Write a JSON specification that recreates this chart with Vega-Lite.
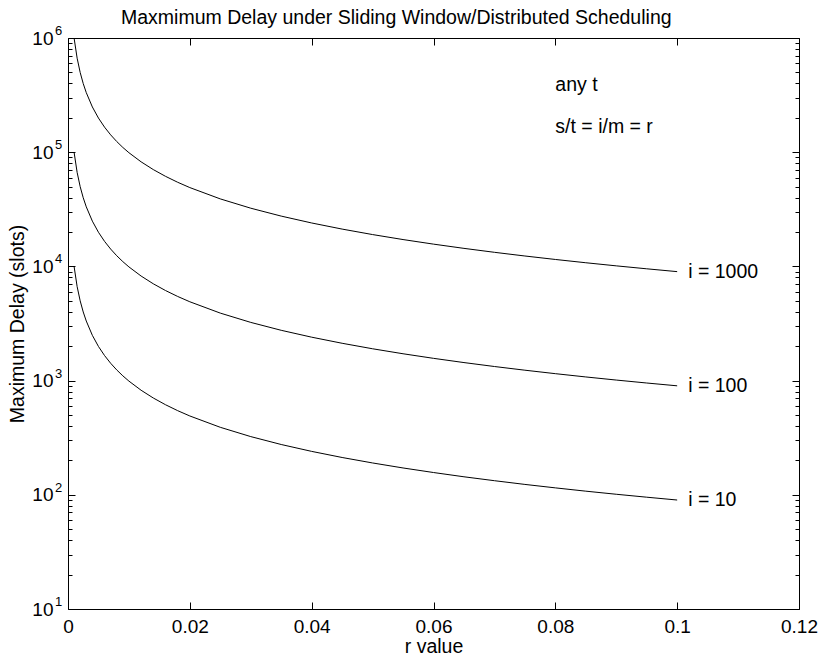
{
  "$schema": "https://vega.github.io/schema/vega-lite/v6.json",
  "width": 731,
  "height": 571,
  "autosize": {"type": "none"},
  "padding": {"left": 68, "top": 38, "right": 23, "bottom": 49},
  "background": "white",
  "config": {
    "view": {"stroke": null},
    "font": "Liberation Sans",
    "axis": {
      "grid": false,
      "domainColor": "black",
      "tickColor": "black",
      "labelColor": "black",
      "titleColor": "black",
      "labelFont": "Liberation Sans",
      "titleFont": "Liberation Sans",
      "labelFontSize": 19,
      "titleFontSize": 19.5,
      "titleFontWeight": "normal",
      "labelFlush": false,
      "labelOverlap": false,
      "labelBound": false,
      "domainWidth": 1,
      "tickWidth": 1
    },
    "title": {"font": "Liberation Sans", "fontSize": 19.5, "fontWeight": "normal", "color": "black"}
  },
  "title": {"text": "Maxmimum Delay under Sliding Window/Distributed Scheduling", "anchor": "start", "frame": "group", "dx": 53, "offset": -3},
  "datasets": {
    "curves": [
      {"r": 0.001, "d10": 9990, "d100": 99900, "d1000": 999000},
      {"r": 0.0015, "d10": 6656.7, "d100": 66566.7, "d1000": 665666.7},
      {"r": 0.002, "d10": 4990, "d100": 49900, "d1000": 499000},
      {"r": 0.0025, "d10": 3990, "d100": 39900, "d1000": 399000},
      {"r": 0.003, "d10": 3323.3, "d100": 33233.3, "d1000": 332333.3},
      {"r": 0.004, "d10": 2490, "d100": 24900, "d1000": 249000},
      {"r": 0.005, "d10": 1990, "d100": 19900, "d1000": 199000},
      {"r": 0.006, "d10": 1656.7, "d100": 16566.7, "d1000": 165666.7},
      {"r": 0.007, "d10": 1418.6, "d100": 14185.7, "d1000": 141857.1},
      {"r": 0.008, "d10": 1240, "d100": 12400, "d1000": 124000},
      {"r": 0.009, "d10": 1101.1, "d100": 11011.1, "d1000": 110111.1},
      {"r": 0.01, "d10": 990, "d100": 9900, "d1000": 99000},
      {"r": 0.012, "d10": 823.3, "d100": 8233.3, "d1000": 82333.3},
      {"r": 0.014, "d10": 704.3, "d100": 7042.9, "d1000": 70428.6},
      {"r": 0.016, "d10": 615, "d100": 6150, "d1000": 61500},
      {"r": 0.018, "d10": 545.6, "d100": 5455.6, "d1000": 54555.6},
      {"r": 0.02, "d10": 490, "d100": 4900, "d1000": 49000},
      {"r": 0.025, "d10": 390, "d100": 3900, "d1000": 39000},
      {"r": 0.03, "d10": 323.3, "d100": 3233.3, "d1000": 32333.3},
      {"r": 0.035, "d10": 275.7, "d100": 2757.1, "d1000": 27571.4},
      {"r": 0.04, "d10": 240, "d100": 2400, "d1000": 24000},
      {"r": 0.045, "d10": 212.2, "d100": 2122.2, "d1000": 21222.2},
      {"r": 0.05, "d10": 190, "d100": 1900, "d1000": 19000},
      {"r": 0.055, "d10": 171.8, "d100": 1718.2, "d1000": 17181.8},
      {"r": 0.06, "d10": 156.7, "d100": 1566.7, "d1000": 15666.7},
      {"r": 0.065, "d10": 143.8, "d100": 1438.5, "d1000": 14384.6},
      {"r": 0.07, "d10": 132.9, "d100": 1328.6, "d1000": 13285.7},
      {"r": 0.075, "d10": 123.3, "d100": 1233.3, "d1000": 12333.3},
      {"r": 0.08, "d10": 115, "d100": 1150, "d1000": 11500},
      {"r": 0.085, "d10": 107.6, "d100": 1076.5, "d1000": 10764.7},
      {"r": 0.09, "d10": 101.1, "d100": 1011.1, "d1000": 10111.1},
      {"r": 0.095, "d10": 95.3, "d100": 952.6, "d1000": 9526.3},
      {"r": 0.1, "d10": 90, "d100": 900, "d1000": 9000}
    ],
    "labels": [
      {"r": 0.1, "d": 9000, "t": "i = 1000"},
      {"r": 0.1, "d": 900, "t": "i = 100"},
      {"r": 0.1, "d": 90, "t": "i = 10"}
    ],
    "notes": [
      {"r": 0.08, "d": 384000, "t": "any t"},
      {"r": 0.08, "d": 165000, "t": "s/t = i/m = r"}
    ],
    "exps": [
      {"r": 0, "d": 10, "t": "1"},
      {"r": 0, "d": 100, "t": "2"},
      {"r": 0, "d": 1000, "t": "3"},
      {"r": 0, "d": 10000, "t": "4"},
      {"r": 0, "d": 100000, "t": "5"},
      {"r": 0, "d": 1000000, "t": "6"}
    ]
  },
  "resolve": {"scale": {"x": "shared", "y": "shared"}, "axis": {"x": "independent", "y": "independent"}},
  "layer": [
    {
      "data": {"name": "curves"},
      "transform": [{"fold": ["d10", "d100", "d1000"], "as": ["series", "delay"]}],
      "mark": {"type": "line", "color": "black", "strokeWidth": 1},
      "encoding": {
        "x": {"field": "r", "type": "quantitative",
          "scale": {"domain": [0, 0.12], "nice": false, "zero": false},
          "axis": {"orient": "bottom", "values": [0, 0.02, 0.04, 0.06, 0.08, 0.1, 0.12], "labelExpr": "datum.value == 0 ? '0' : format(datum.value, '.2~f')", "tickSize": -7, "labelPadding": 15, "title": "r value", "titlePadding": 1}},
        "y": {"field": "delay", "type": "quantitative",
          "scale": {"type": "log", "domain": [10, 1000000], "nice": false},
          "axis": {"orient": "left", "values": [10, 100, 1000, 10000, 100000, 1000000], "labelExpr": "'10'", "tickSize": -7, "labelPadding": 22, "labelAlign": "right", "labelBaseline": "middle", "title": "Maximum Delay (slots)", "titlePadding": 4}},
        "detail": {"field": "series"}
      }
    },
    {
      "data": {"name": "labels"},
      "mark": {"type": "text", "align": "left", "baseline": "middle", "dx": 11, "fontSize": 19.5, "font": "Liberation Sans", "color": "black"},
      "encoding": {
        "x": {"field": "r", "type": "quantitative",
          "axis": {"orient": "top", "values": [0, 0.02, 0.04, 0.06, 0.08, 0.1, 0.12], "labels": false, "tickSize": -7, "title": null}},
        "y": {"field": "d", "type": "quantitative", "scale": {"type": "log"},
          "axis": {"orient": "right", "values": [10, 100, 1000, 10000, 100000, 1000000], "labels": false, "tickSize": -7, "title": null}},
        "text": {"field": "t"}
      }
    },
    {
      "data": {"name": "notes"},
      "mark": {"type": "text", "align": "left", "baseline": "middle", "fontSize": 19.5, "font": "Liberation Sans", "color": "black"},
      "encoding": {
        "x": {"field": "r", "type": "quantitative", "axis": null},
        "y": {"field": "d", "type": "quantitative", "scale": {"type": "log"},
          "axis": {"orient": "left", "values": [20, 30, 40, 50, 60, 70, 80, 90, 200, 300, 400, 500, 600, 700, 800, 900, 2000, 3000, 4000, 5000, 6000, 7000, 8000, 9000, 20000, 30000, 40000, 50000, 60000, 70000, 80000, 90000, 200000, 300000, 400000, 500000, 600000, 700000, 800000, 900000], "labels": false, "domain": false, "tickSize": -4, "title": null}},
        "text": {"field": "t"}
      }
    },
    {
      "data": {"name": "exps"},
      "mark": {"type": "text", "align": "left", "baseline": "middle", "dx": -13, "dy": -7, "fontSize": 13, "font": "Liberation Sans", "color": "black"},
      "encoding": {
        "x": {"field": "r", "type": "quantitative", "axis": null},
        "y": {"field": "d", "type": "quantitative", "scale": {"type": "log"},
          "axis": {"orient": "right", "values": [20, 30, 40, 50, 60, 70, 80, 90, 200, 300, 400, 500, 600, 700, 800, 900, 2000, 3000, 4000, 5000, 6000, 7000, 8000, 9000, 20000, 30000, 40000, 50000, 60000, 70000, 80000, 90000, 200000, 300000, 400000, 500000, 600000, 700000, 800000, 900000], "labels": false, "domain": false, "tickSize": -4, "title": null}},
        "text": {"field": "t"}
      }
    }
  ]
}
